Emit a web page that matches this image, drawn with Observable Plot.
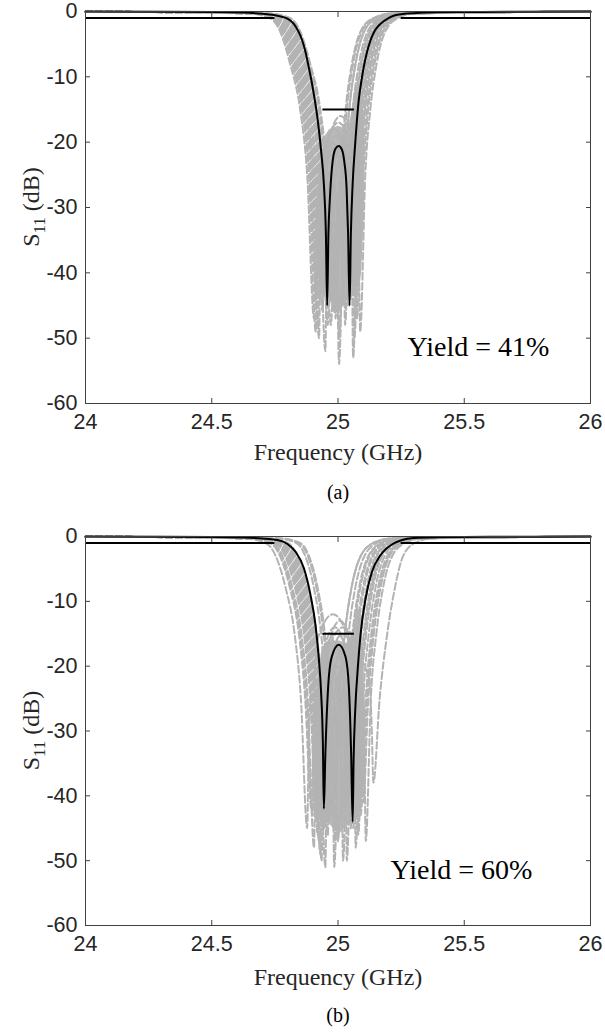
<!DOCTYPE html>
<html><head><meta charset="utf-8">
<script src="https://cdn.jsdelivr.net/npm/d3@7"></script>
<script src="https://cdn.jsdelivr.net/npm/@observablehq/plot@0.6"></script>
<style>
body{margin:0;background:#fff;}
#chart{width:605px;}
#chart svg{display:block;}
</style></head><body><div id="chart"></div>
<script>
const xTicks = [24, 24.5, 25, 25.5, 26];
const yTicks = [0, -10, -20, -30, -40, -50, -60];
const xLabel = "Frequency (GHz)";
const captions = ["(a)", "(b)"];
const yieldLabels = ["Yield = 41%", "Yield = 60%"];
const specMask = [
  {x1: 24, x2: 24.75, y: -1},
  {x1: 25.25, x2: 26, y: -1},
  {x1: 24.94, x2: 25.065, y: -15}
];

// nominal responses [GHz, dB]
const nominalA = [[24,-0.01],[24.3,-0.04],[24.5,-0.08],[24.6,-0.15],[24.7,-0.35],[24.76,-0.65],[24.8,-1.1],[24.825,-1.9],[24.845,-3.2],[24.858,-4.4],[24.872,-6.3],[24.884,-8.5],[24.895,-10.6],[24.904,-12.6],[24.92,-16.7],[24.933,-21.3],[24.944,-26.4],[24.952,-34],[24.957,-45],[24.962,-34],[24.968,-28.5],[24.977,-23.5],[24.99,-21.0],[25.003,-20.6],[25.016,-21.2],[25.025,-23],[25.034,-27],[25.040,-34],[25.046,-45],[25.051,-34],[25.058,-26.4],[25.068,-20.3],[25.082,-13.6],[25.092,-10.8],[25.102,-8.5],[25.115,-6.2],[25.129,-4.4],[25.145,-3.0],[25.168,-1.9],[25.2,-1.0],[25.22,-0.65],[25.274,-0.32],[25.4,-0.12],[25.5,-0.08],[25.7,-0.04],[26,-0.01]];
const nominalB = [[24,-0.01],[24.3,-0.04],[24.5,-0.08],[24.6,-0.15],[24.7,-0.3],[24.76,-0.55],[24.8,-1.15],[24.832,-2.35],[24.865,-4.9],[24.891,-9.0],[24.911,-13.7],[24.924,-18.8],[24.933,-24],[24.940,-31.7],[24.944,-42],[24.950,-33.5],[24.961,-23.2],[24.975,-18.6],[25.003,-16.7],[25.030,-18.6],[25.043,-23.2],[25.052,-33.5],[25.058,-44],[25.062,-34],[25.068,-27],[25.078,-20.5],[25.089,-15.2],[25.109,-9.6],[25.135,-5.4],[25.168,-2.9],[25.215,-1.2],[25.254,-0.54],[25.30,-0.25],[25.4,-0.1],[25.6,-0.05],[26,-0.01]];

// Monte Carlo samples, panel (a)
const grayA = [
[[24,-0.02],[24.645,-0.3],[24.730,-1],[24.770,-3],[24.810,-8],[24.850,-15],[24.878,-25],[24.905,-47],[24.911,-36],[24.921,-28],[24.950,-24],[24.979,-28],[24.989,-36],[24.995,-42],[25.015,-25],[25.035,-15],[25.060,-8],[25.095,-3],[25.145,-1],[25.215,-0.3],[26,-0.02]],
[[24,-0.02],[24.655,-0.3],[24.740,-1],[24.780,-3],[24.820,-8],[24.860,-15],[24.888,-25],[24.915,-44],[24.921,-35],[24.931,-27],[24.960,-23],[24.989,-27],[24.999,-35],[25.005,-50],[25.025,-25],[25.045,-15],[25.070,-8],[25.105,-3],[25.155,-1],[25.225,-0.3],[26,-0.02]],
[[24,-0.02],[24.665,-0.3],[24.750,-1],[24.790,-3],[24.830,-8],[24.870,-15],[24.898,-25],[24.925,-50],[24.931,-34],[24.941,-26],[24.9715,-22],[25.002,-26],[25.012,-34],[25.018,-45],[25.038,-25],[25.058,-15],[25.083,-8],[25.118,-3],[25.168,-1],[25.238,-0.3],[26,-0.02]],
[[24,-0.02],[24.672,-0.3],[24.757,-1],[24.797,-3],[24.837,-8],[24.877,-15],[24.905,-25],[24.932,-42],[24.938,-33],[24.948,-25],[24.980,-21],[25.012,-25],[25.022,-33],[25.028,-48],[25.048,-25],[25.068,-15],[25.093,-8],[25.128,-3],[25.178,-1],[25.248,-0.3],[26,-0.02]],
[[24,-0.02],[24.680,-0.3],[24.765,-1],[24.805,-3],[24.845,-8],[24.885,-15],[24.913,-25],[24.940,-46],[24.946,-31],[24.956,-23],[24.9925,-19],[25.029,-23],[25.039,-31],[25.045,-44],[25.065,-25],[25.085,-15],[25.110,-8],[25.145,-3],[25.195,-1],[25.265,-0.3],[26,-0.02]],
[[24,-0.02],[24.690,-0.3],[24.775,-1],[24.815,-3],[24.855,-8],[24.895,-15],[24.923,-25],[24.950,-52],[24.956,-34],[24.966,-26],[24.995,-22],[25.024,-26],[25.034,-34],[25.040,-45],[25.060,-25],[25.080,-15],[25.105,-8],[25.140,-3],[25.190,-1],[25.260,-0.3],[26,-0.02]],
[[24,-0.02],[24.700,-0.3],[24.785,-1],[24.825,-3],[24.865,-8],[24.905,-15],[24.933,-25],[24.960,-48],[24.966,-33],[24.976,-25],[25.0075,-21],[25.039,-25],[25.049,-33],[25.055,-41],[25.075,-25],[25.095,-15],[25.120,-8],[25.155,-3],[25.205,-1],[25.275,-0.3],[26,-0.02]],
[[24,-0.02],[24.710,-0.3],[24.795,-1],[24.835,-3],[24.875,-8],[24.915,-15],[24.943,-25],[24.970,-44],[24.976,-34],[24.986,-26],[25.0175,-22],[25.049,-26],[25.059,-34],[25.065,-50],[25.085,-25],[25.105,-15],[25.130,-8],[25.165,-3],[25.215,-1],[25.285,-0.3],[26,-0.02]],
[[24,-0.02],[24.725,-0.3],[24.810,-1],[24.850,-3],[24.890,-8],[24.930,-15],[24.958,-25],[24.985,-46],[24.991,-36],[25.001,-28],[25.0365,-24],[25.072,-28],[25.082,-36],[25.088,-49],[25.108,-25],[25.128,-15],[25.153,-8],[25.188,-3],[25.238,-1],[25.308,-0.3],[26,-0.02]],
[[24,-0.02],[24.695,-0.3],[24.780,-1],[24.820,-3],[24.860,-8],[24.900,-15],[24.928,-25],[24.955,-45],[24.961,-37],[24.990,-29],[25.019,-37],[25.025,-40],[25.045,-25],[25.065,-15],[25.090,-8],[25.125,-3],[25.175,-1],[25.245,-0.3],[26,-0.02]],
[[24,-0.02],[24.712,-0.3],[24.797,-1],[24.837,-3],[24.877,-8],[24.917,-15],[24.945,-25],[24.972,-48],[24.978,-44],[24.988,-36],[24.998,-44],[25.004,-54],[25.024,-25],[25.044,-15],[25.069,-8],[25.104,-3],[25.154,-1],[25.224,-0.3],[26,-0.02]],
[[24,-0.02],[24.675,-0.3],[24.760,-1],[24.800,-3],[24.840,-8],[24.880,-15],[24.908,-25],[24.935,-40],[24.941,-29],[24.951,-21],[25.0015,-17],[25.052,-21],[25.062,-29],[25.068,-46],[25.088,-25],[25.108,-15],[25.133,-8],[25.168,-3],[25.218,-1],[25.288,-0.3],[26,-0.02]],
[[24,-0.02],[24.660,-0.3],[24.745,-1],[24.785,-3],[24.825,-8],[24.865,-15],[24.893,-25],[24.920,-48],[24.926,-30],[24.936,-22],[24.985,-18],[25.034,-22],[25.044,-30],[25.050,-44],[25.070,-25],[25.090,-15],[25.115,-8],[25.150,-3],[25.200,-1],[25.270,-0.3],[26,-0.02]],
[[24,-0.02],[24.720,-0.3],[24.805,-1],[24.845,-3],[24.885,-8],[24.925,-15],[24.953,-25],[24.980,-43],[24.986,-36],[25.020,-28],[25.054,-36],[25.060,-53],[25.080,-25],[25.100,-15],[25.125,-8],[25.160,-3],[25.210,-1],[25.280,-0.3],[26,-0.02]],
[[24,-0.02],[24.685,-0.3],[24.770,-1],[24.810,-3],[24.850,-8],[24.890,-15],[24.918,-25],[24.945,-41],[24.951,-28],[24.961,-20],[25.010,-16],[25.059,-20],[25.069,-28],[25.075,-47],[25.095,-25],[25.115,-15],[25.140,-8],[25.175,-3],[25.225,-1],[25.295,-0.3],[26,-0.02]],
[[24,-0.02],[24.652,-0.3],[24.737,-1],[24.777,-3],[24.817,-8],[24.857,-15],[24.885,-25],[24.912,-49],[24.918,-32],[24.928,-24],[24.9735,-20],[25.019,-24],[25.029,-32],[25.035,-43],[25.055,-25],[25.075,-15],[25.100,-8],[25.135,-3],[25.185,-1],[25.255,-0.3],[26,-0.02]],
[[24,-0.02],[24.705,-0.3],[24.790,-1],[24.830,-3],[24.870,-8],[24.910,-15],[24.938,-25],[24.965,-45],[24.971,-32],[24.981,-24],[25.0225,-20],[25.064,-24],[25.074,-32],[25.080,-42],[25.100,-25],[25.120,-15],[25.145,-8],[25.180,-3],[25.230,-1],[25.300,-0.3],[26,-0.02]],
[[24,-0.02],[24.668,-0.3],[24.753,-1],[24.793,-3],[24.833,-8],[24.873,-15],[24.901,-25],[24.928,-44],[24.934,-38],[24.959,-30],[24.984,-38],[24.990,-47],[25.010,-25],[25.030,-15],[25.055,-8],[25.090,-3],[25.140,-1],[25.210,-0.3],[26,-0.02]]
];
// Monte Carlo samples, panel (b)
const grayB = [
[[24,-0.02],[24.628,-0.3],[24.713,-1],[24.753,-3],[24.793,-8],[24.828,-15],[24.853,-25],[24.878,-45],[24.884,-32],[24.894,-24],[24.9315,-20],[24.969,-24],[24.979,-32],[24.985,-40],[25.005,-25],[25.027,-15],[25.053,-8],[25.090,-3],[25.140,-1],[25.210,-0.3],[26,-0.02]],
[[24,-0.02],[24.645,-0.3],[24.730,-1],[24.770,-3],[24.810,-8],[24.845,-15],[24.870,-25],[24.895,-42],[24.901,-33],[24.911,-25],[24.9475,-21],[24.984,-25],[24.994,-33],[25.000,-47],[25.020,-25],[25.042,-15],[25.068,-8],[25.105,-3],[25.155,-1],[25.225,-0.3],[26,-0.02]],
[[24,-0.02],[24.655,-0.3],[24.740,-1],[24.780,-3],[24.820,-8],[24.855,-15],[24.880,-25],[24.905,-48],[24.911,-31],[24.921,-23],[24.960,-19],[24.999,-23],[25.009,-31],[25.015,-44],[25.035,-25],[25.057,-15],[25.083,-8],[25.120,-3],[25.170,-1],[25.240,-0.3],[26,-0.02]],
[[24,-0.02],[24.665,-0.3],[24.750,-1],[24.790,-3],[24.830,-8],[24.865,-15],[24.890,-25],[24.915,-44],[24.921,-28],[24.931,-20],[24.975,-16],[25.019,-20],[25.029,-28],[25.035,-50],[25.055,-25],[25.077,-15],[25.103,-8],[25.140,-3],[25.190,-1],[25.260,-0.3],[26,-0.02]],
[[24,-0.02],[24.675,-0.3],[24.760,-1],[24.800,-3],[24.840,-8],[24.875,-15],[24.900,-25],[24.925,-47],[24.931,-26],[24.941,-18],[24.9875,-14],[25.034,-18],[25.044,-26],[25.050,-45],[25.070,-25],[25.092,-15],[25.118,-8],[25.155,-3],[25.205,-1],[25.275,-0.3],[26,-0.02]],
[[24,-0.02],[24.685,-0.3],[24.770,-1],[24.810,-3],[24.850,-8],[24.885,-15],[24.910,-25],[24.935,-50],[24.941,-34],[24.951,-26],[24.9825,-22],[25.014,-26],[25.024,-34],[25.030,-42],[25.050,-25],[25.072,-15],[25.098,-8],[25.135,-3],[25.185,-1],[25.255,-0.3],[26,-0.02]],
[[24,-0.02],[24.695,-0.3],[24.780,-1],[24.820,-3],[24.860,-8],[24.895,-15],[24.920,-25],[24.945,-45],[24.951,-25],[24.961,-17],[25.0075,-13],[25.054,-17],[25.064,-25],[25.070,-48],[25.090,-25],[25.112,-15],[25.138,-8],[25.175,-3],[25.225,-1],[25.295,-0.3],[26,-0.02]],
[[24,-0.02],[24.705,-0.3],[24.790,-1],[24.830,-3],[24.870,-8],[24.905,-15],[24.930,-25],[24.955,-42],[24.961,-27],[24.971,-19],[25.0175,-15],[25.064,-19],[25.074,-27],[25.080,-46],[25.100,-25],[25.122,-15],[25.148,-8],[25.185,-3],[25.235,-1],[25.305,-0.3],[26,-0.02]],
[[24,-0.02],[24.715,-0.3],[24.800,-1],[24.840,-3],[24.880,-8],[24.915,-15],[24.940,-25],[24.965,-44],[24.971,-29],[24.981,-21],[25.030,-17],[25.079,-21],[25.089,-29],[25.095,-40],[25.115,-25],[25.137,-15],[25.163,-8],[25.200,-3],[25.250,-1],[25.320,-0.3],[26,-0.02]],
[[24,-0.02],[24.765,-0.3],[24.845,-1],[24.880,-3],[24.915,-8],[24.943,-15],[24.965,-25],[24.985,-40],[24.991,-30],[25.001,-22],[25.0625,-18],[25.124,-22],[25.134,-30],[25.140,-38],[25.165,-25],[25.195,-15],[25.225,-8],[25.258,-3],[25.305,-1],[25.375,-0.3],[26,-0.02]],
[[24,-0.02],[24.680,-0.3],[24.765,-1],[24.805,-3],[24.845,-8],[24.880,-15],[24.905,-25],[24.930,-49],[24.936,-38],[24.9575,-30],[24.979,-38],[24.985,-51],[25.005,-25],[25.027,-15],[25.053,-8],[25.090,-3],[25.140,-1],[25.210,-0.3],[26,-0.02]],
[[24,-0.02],[24.710,-0.3],[24.795,-1],[24.835,-3],[24.875,-8],[24.910,-15],[24.935,-25],[24.960,-46],[24.966,-36],[24.990,-28],[25.014,-36],[25.020,-50],[25.040,-25],[25.062,-15],[25.088,-8],[25.125,-3],[25.175,-1],[25.245,-0.3],[26,-0.02]],
[[24,-0.02],[24.650,-0.3],[24.735,-1],[24.775,-3],[24.815,-8],[24.850,-15],[24.875,-25],[24.900,-43],[24.906,-24],[24.918,-16],[24.980,-12],[25.042,-16],[25.054,-24],[25.060,-45],[25.080,-25],[25.102,-15],[25.128,-8],[25.165,-3],[25.215,-1],[25.285,-0.3],[26,-0.02]],
[[24,-0.02],[24.770,-0.3],[24.850,-1],[24.885,-3],[24.920,-8],[24.948,-15],[24.970,-25],[24.990,-47],[24.996,-34],[25.006,-26],[25.040,-22],[25.074,-26],[25.084,-34],[25.090,-43],[25.110,-25],[25.132,-15],[25.158,-8],[25.195,-3],[25.245,-1],[25.315,-0.3],[26,-0.02]],
[[24,-0.02],[24.670,-0.3],[24.755,-1],[24.795,-3],[24.835,-8],[24.870,-15],[24.895,-25],[24.920,-46],[24.926,-27],[24.936,-19],[24.9925,-15],[25.049,-19],[25.059,-27],[25.065,-42],[25.085,-25],[25.107,-15],[25.133,-8],[25.170,-3],[25.220,-1],[25.290,-0.3],[26,-0.02]],
[[24,-0.02],[24.700,-0.3],[24.785,-1],[24.825,-3],[24.865,-8],[24.900,-15],[24.925,-25],[24.950,-51],[24.956,-32],[24.966,-24],[24.9975,-20],[25.029,-24],[25.039,-32],[25.045,-44],[25.065,-25],[25.087,-15],[25.113,-8],[25.150,-3],[25.200,-1],[25.270,-0.3],[26,-0.02]],
[[24,-0.02],[24.755,-0.3],[24.835,-1],[24.870,-3],[24.905,-8],[24.933,-15],[24.955,-25],[24.975,-43],[24.981,-31],[24.991,-23],[25.0425,-19],[25.094,-23],[25.104,-31],[25.110,-47],[25.130,-25],[25.152,-15],[25.178,-8],[25.215,-3],[25.265,-1],[25.335,-0.3],[26,-0.02]],
[[24,-0.02],[24.690,-0.3],[24.775,-1],[24.815,-3],[24.855,-8],[24.890,-15],[24.915,-25],[24.940,-44],[24.946,-26],[24.958,-18],[25.020,-14],[25.082,-18],[25.094,-26],[25.100,-41],[25.120,-25],[25.142,-15],[25.168,-8],[25.205,-3],[25.255,-1],[25.325,-0.3],[26,-0.02]]
];
// dense overlap region of the samples (outline)
const coreA = [[24.92,-40],[24.924,-30],[24.932,-23],[24.947,-19],[24.965,-18],[25.0,-17.5],[25.035,-18],[25.05,-16],[25.065,-12],[25.08,-10.5],[25.095,-13],[25.105,-20],[25.103,-30],[25.092,-40],[25.075,-43],[25.04,-44],[25.0,-46],[24.96,-44],[24.935,-43]];
const coreB = [[24.905,-40],[24.91,-30],[24.92,-22],[24.935,-17],[24.96,-16.5],[25.0,-16],[25.04,-16.5],[25.06,-14],[25.075,-11],[25.09,-12],[25.10,-18],[25.108,-28],[25.103,-38],[25.085,-43],[25.05,-44],[25.0,-46],[24.96,-44],[24.93,-44]];

const serif = "'Liberation Serif','Times New Roman',serif";
const sans = "'Liberation Sans',Arial,Helvetica,sans-serif";
const axisColor = "#404040";

function panel(o) {
  const grayRows = o.gray.flatMap((c, i) => c.map(([f, s]) => ({f, s, id: i})));
  const fmt = d => String(d);
  const plot = Plot.plot({
    width: 605, height: o.height,
    marginLeft: 85, marginRight: 15, marginTop: o.mt, marginBottom: o.mb,
    x: {domain: [24, 26], label: null},
    y: {domain: [-60, 0], label: null},
    style: {fontFamily: sans, fontSize: "21.5px", color: "#262626", background: "white", overflow: "visible"},
    marks: [
      Plot.line(o.core, {x: d => d[0], y: d => d[1], fill: "#b3b3b3", fillOpacity: 0.92, stroke: "none"}),
      Plot.line(grayRows, {x: "f", y: "s", z: "id", stroke: "#b3b3b3", strokeWidth: 2, strokeDasharray: "7,3", curve: "monotone-x"}),
      Plot.line(o.nominal, {x: d => d[0], y: d => d[1], stroke: "black", strokeWidth: 2, curve: "monotone-x"}),
      Plot.ruleY(specMask, {y: "y", x1: "x1", x2: "x2", stroke: "black", strokeWidth: 2}),
      Plot.frame({stroke: axisColor}),
      Plot.axisX({anchor: "bottom", ticks: xTicks, tickSize: 5, dy: -5, tickFormat: () => "", stroke: axisColor}),
      Plot.axisX({anchor: "top", ticks: xTicks, tickSize: 5, dy: 5, tickFormat: () => "", stroke: axisColor}),
      Plot.axisY({anchor: "left", ticks: yTicks, tickSize: 5, dx: 5, tickFormat: () => "", stroke: axisColor}),
      Plot.axisY({anchor: "right", ticks: yTicks, tickSize: 5, dx: -5, tickFormat: () => "", stroke: axisColor}),
      Plot.axisX({anchor: "bottom", ticks: xTicks, tickSize: 0, tickPadding: 10, tickFormat: fmt}),
      Plot.axisY({anchor: "left", ticks: yTicks, tickSize: 0, tickPadding: 8, tickFormat: fmt}),
      Plot.text([xLabel], {text: d => d, frameAnchor: "bottom", dy: o.labelDy, fontFamily: serif, fontSize: 24, fill: "#262626", lineAnchor: "middle"}),
      Plot.text([o.caption], {text: d => d, frameAnchor: "bottom", dy: o.capDy, fontFamily: serif, fontSize: 20, fill: "black", lineAnchor: "middle"}),
      Plot.text([o.yieldText], {text: d => d, frameAnchor: "top-left", dx: o.yx, dy: o.yy, textAnchor: "start", lineAnchor: "middle", fontFamily: serif, fontSize: 28, fill: "black"})
    ]
  });
  const svg = d3.select(plot);
  const cy = o.mt + (o.height - o.mt - o.mb) / 2;
  const t = svg.append("text")
    .attr("transform", `translate(39,${cy}) rotate(-90)`)
    .attr("text-anchor", "middle")
    .attr("font-family", serif).attr("font-size", 24).attr("fill", "#262626");
  t.append("tspan").text("S");
  t.append("tspan").attr("font-size", 17).attr("dy", 6).text("11");
  t.append("tspan").attr("dy", -6).text(" (dB)");
  return plot;
}

const chart = document.getElementById("chart");
chart.appendChild(panel({nominal: nominalA, gray: grayA, core: coreA, yieldText: yieldLabels[0], caption: captions[0],
  height: 505, mt: 11, mb: 102, labelDy: 49, capDy: 89, yx: 322, yy: 336}));
chart.appendChild(panel({nominal: nominalB, gray: grayB, core: coreB, yieldText: yieldLabels[1], caption: captions[1],
  height: 527, mt: 31, mb: 107, labelDy: 52, capDy: 90, yx: 305, yy: 334}));
</script></body></html>
